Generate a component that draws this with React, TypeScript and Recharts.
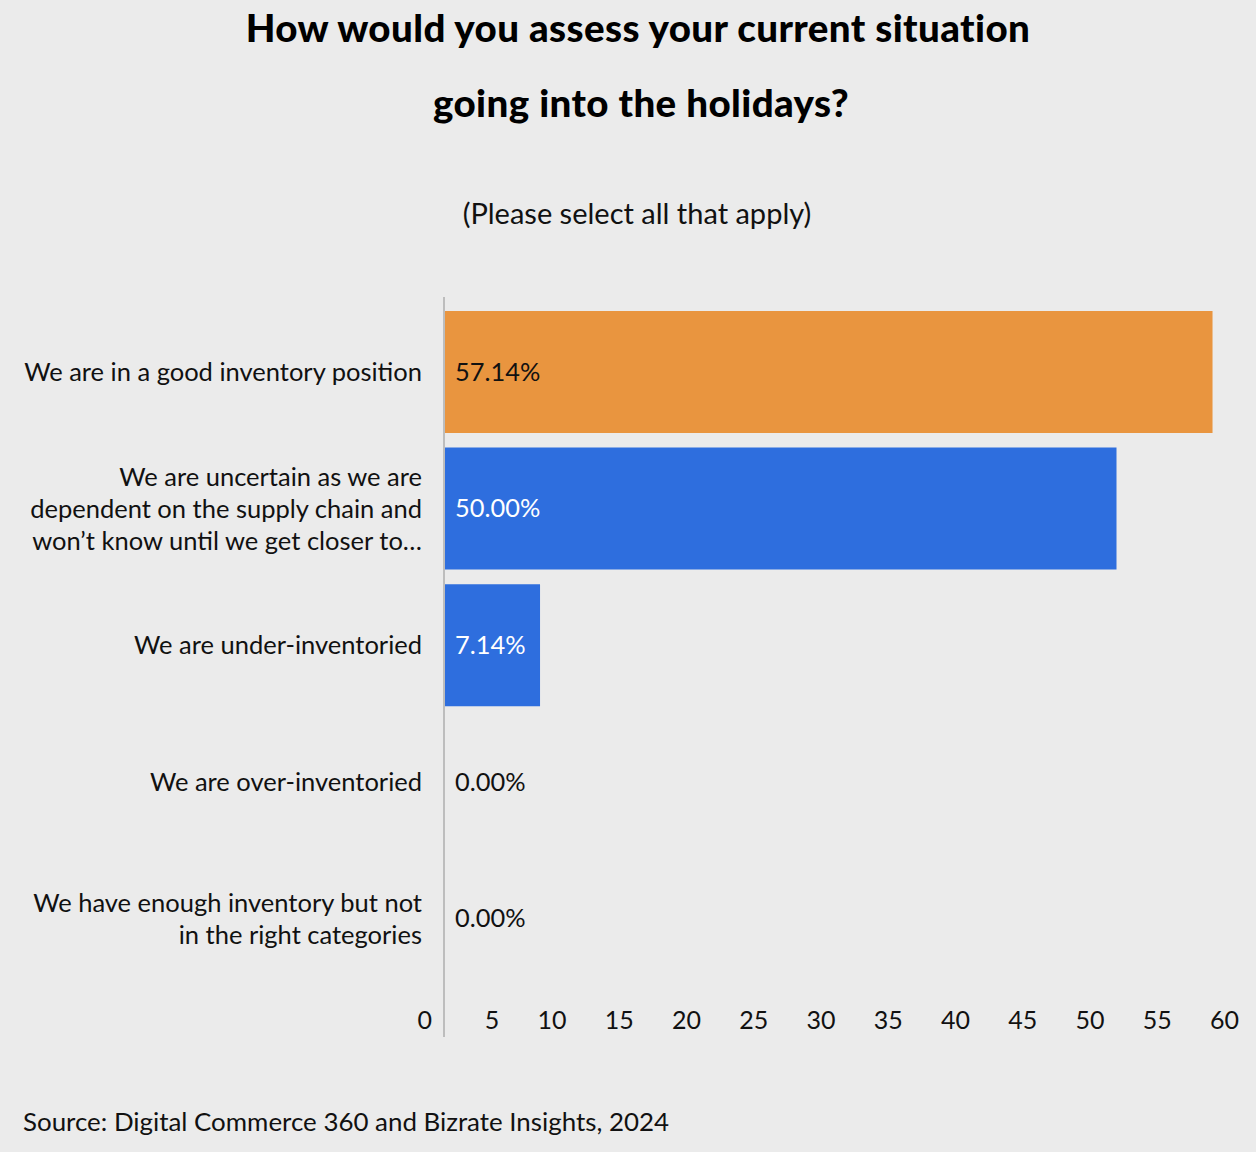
import React from "react";
import { BarChart, Bar, Cell, XAxis, YAxis, LabelList } from "recharts";

const categories = [
  "We are in a good inventory position",
  "We are uncertain as we are\ndependent on the supply chain and\nwon’t know until we get closer to…",
  "We are under-inventoried",
  "We are over-inventoried",
  "We have enough inventory but not\nin the right categories",
];
const values = [57.14, 50.0, 7.14, 0.0, 0.0];
const barColors = ["#E9953F", "#2E6EDE", "#2E6EDE", "#2E6EDE", "#2E6EDE"];
const labelColors = ["#111111", "#ffffff", "#ffffff", "#111111", "#111111"];
const xTicks = [0, 5, 10, 15, 20, 25, 30, 35, 40, 45, 50, 55, 60];

const data = categories.map((name, i) => ({ name, value: values[i] }));

const FONT = "Lato, 'Open Sans', sans-serif";

const CategoryTick = (props: any) => {
  const { x, y, payload } = props;
  const lines = String(payload.value).split("\n");
  const lh = 32;
  const start = y - ((lines.length - 1) * lh) / 2;
  return (
    <text x={x - 22} y={start} textAnchor="end" fontSize={25.5} fontFamily={FONT} fill="#111">
      {lines.map((l, i) => (
        <tspan key={i} x={x - 22} y={start + i * lh} dy="0.35em">
          {l}
        </tspan>
      ))}
    </text>
  );
};

const ValueTick = (props: any) => {
  const { x, y, payload } = props;
  return (
    <text x={x - 12} y={y - 8} textAnchor="end" fontSize={25} fontFamily={FONT} fill="#111">
      {payload.value}
    </text>
  );
};

const BarLabel = (props: any) => {
  const { x, y, height, index, value } = props;
  return (
    <text
      x={Number(x) + 11}
      y={Number(y) + Number(height) / 2}
      dy="0.35em"
      fontSize={25.4}
      fontFamily={FONT}
      fill={labelColors[index]}
    >
      {Number(value).toFixed(2)}%
    </text>
  );
};

export default function App() {
  return (
    <div style={{ position: "absolute", left: 0, top: 0, width: 1256, height: 1152, background: "#EBEBEB" }}>
      <svg width={1256} height={1152} style={{ position: "absolute", left: 0, top: 0 }}>
        <text x={638} y={42} textAnchor="middle" fontSize={38.5} letterSpacing={0.4} fontWeight={900} fontFamily={FONT} fill="#000">
          How would you assess your current situation
        </text>
        <text x={641} y={117} textAnchor="middle" fontSize={38.5} letterSpacing={0.4} fontWeight={900} fontFamily={FONT} fill="#000">
          going into the holidays?
        </text>
        <text x={637} y={224} textAnchor="middle" fontSize={29} fontFamily={FONT} fill="#111">
          (Please select all that apply)
        </text>
        <text x={23} y={1131} fontSize={25.9} fontFamily={FONT} fill="#111">
          Source: Digital Commerce 360 and Bizrate Insights, 2024
        </text>
      </svg>
      <div style={{ position: "absolute", left: 0, top: 0 }}>
        <BarChart
          width={1256}
          height={1152}
          data={data}
          layout="vertical"
          margin={{ top: 297, right: 5, left: 0, bottom: 85 }}
        >
          <XAxis
            type="number"
            domain={[0, 60]}
            ticks={xTicks}
            interval={0}
            height={30}
            axisLine={false}
            tickLine={false}
            tickSize={0}
            tickMargin={0}
            tick={<ValueTick />}
          />
          <YAxis
            type="category"
            dataKey="name"
            width={444}
            padding={{ top: 7, bottom: 50 }}
            axisLine={{ stroke: "#BDBDBD", strokeWidth: 2 }}
            tickLine={false}
            tickSize={0}
            tickMargin={0}
            interval={0}
            tick={<CategoryTick />}
          />
          <Bar dataKey="value" barSize={122} minPointSize={1} isAnimationActive={false}>
            {data.map((d, i) => (
              <Cell key={d.name} fill={barColors[i]} fillOpacity={d.value === 0 ? 0 : 1} />
            ))}
            <LabelList dataKey="value" content={<BarLabel />} />
          </Bar>
        </BarChart>
      </div>
    </div>
  );
}
